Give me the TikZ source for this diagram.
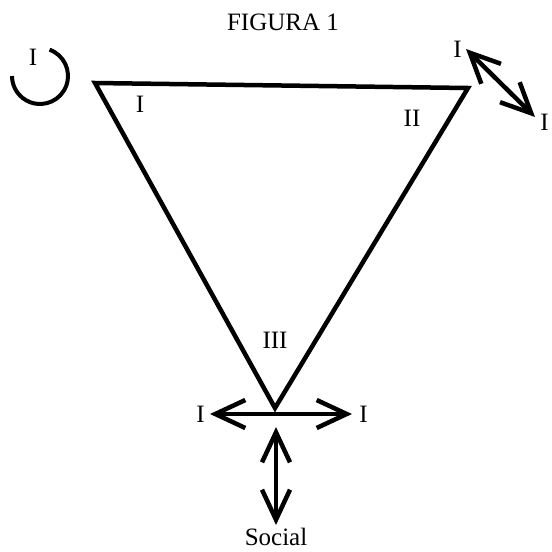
\documentclass[tikz,border=0pt]{standalone}
\usepackage{fontspec}
\setmainfont{Liberation Serif}
\usetikzlibrary{arrows.meta,positioning}
\begin{document}
\begin{tikzpicture}[x=1pt, y=-1pt, line width=4.5pt,
    lbl/.style={font=\fontsize{25}{28}\selectfont, inner sep=1pt},
    dbl/.style={{Straight Barb[length=30pt,width=28pt]}-{Straight Barb[length=30pt,width=28pt]}}]
  \useasboundingbox (0,0) rectangle (552,552);
  \node[lbl] (titulo) at (283,22) {FIGURA 1};
  % triángulo
  \coordinate (va) at (95,83);
  \coordinate (vb) at (468,88);
  \coordinate (vc) at (275,408);
  \draw[line join=miter] (va) -- (vb) -- (vc) -- cycle;
  \node[lbl] (n1) at (140,104) {I};
  \node[lbl] (n2) at (412,118) {II};
  \node[lbl] (n3) at (275,340) {III};
  % círculo arriba a la izquierda
  \coordinate (cc) at (40,76);
  \draw[line width=4pt] (cc) ++(-70:28) arc[start angle=-70, end angle=180, radius=28];
  \node[lbl] (ic) at (33,57) {I};
  % flecha arriba a la derecha
  \coordinate (da) at (466,49);
  \coordinate (db) at (535,117);
  \draw[dbl] (da) -- (db);
  \node[lbl, left=1pt of da] (ida) {I};
  \node[lbl, below right=-6pt and 2pt of db] (idb) {I};
  % flechas abajo
  \coordinate (hl) at (210,414);
  \coordinate (hr) at (352,414);
  \draw[dbl] (hl) -- (hr);
  \node[lbl, left=2pt of hl] (ihl) {I};
  \node[lbl, right=4pt of hr] (ihr) {I};
  \coordinate (vt) at (276,427);
  \coordinate (vs) at (276,525);
  \draw[dbl] (vt) -- (vs);
  \node[lbl, below=0pt of vs] (soc) {Social};
\end{tikzpicture}
\end{document}
